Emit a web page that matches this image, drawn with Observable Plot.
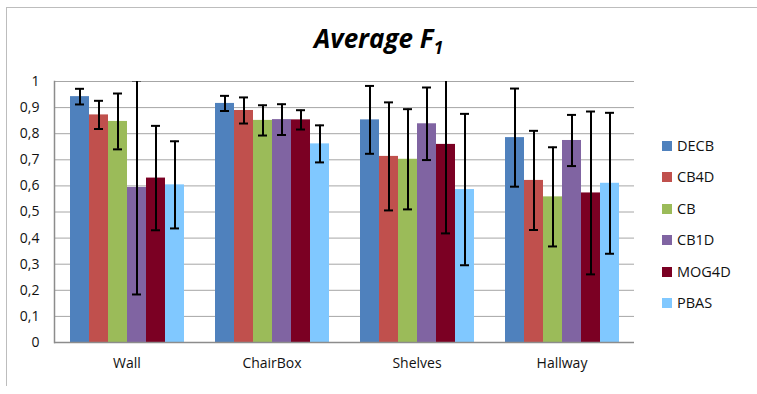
<!DOCTYPE html>
<html>
<head>
<meta charset="utf-8">
<script src="https://cdn.jsdelivr.net/npm/d3@7"></script>
<script src="https://cdn.jsdelivr.net/npm/@observablehq/plot@0.6"></script>
<style>
  body { margin: 0; background: #fff; }
  #wrap { position: relative; width: 757px; height: 394px; overflow: hidden; font-family: "Open Sans", sans-serif; }
  #border { position: absolute; left: 6px; top: 7px; width: 760px; height: 378px; border-top: 1.5px solid #bdbdbd; border-left: 1.5px solid #bdbdbd; }
  #title { height: 60px; width: 757px; font-weight: bold; font-style: italic; font-size: 26px; line-height: 26px; position: relative; }
  #title span { position: absolute; left: 0; right: 0; top: 25px; text-align: center; }
  #title sub { font-size: 17px; vertical-align: -6px; line-height: 0; }
  #legend { position: absolute; left: 662px; top: 136px; font-size: 14.5px; color: #111; }
  #legend .row { height: 31.4px; display: flex; align-items: flex-start; }
  #legend .sw { width: 10px; height: 10px; margin-top: 5px; margin-right: 5px; }
  svg { display: block; }
</style>
</head>
<body>
<div id="wrap">
  <div id="border"></div>
  <div id="title"><span>Average F<sub>1</sub></span></div>
  <div id="chart"></div>
  <div id="legend"></div>
</div>
<script>
const categories = ["Wall", "ChairBox", "Shelves", "Hallway"];
const series = ["DECB", "CB4D", "CB", "CB1D", "MOG4D", "PBAS"];
const colors = ["#4F81BD", "#C0504D", "#9BBB59", "#8064A2", "#7B0023", "#80C8FF"];
// mean values per series, in category order
const DECB  = [0.942, 0.916, 0.853, 0.785];
const CB4D  = [0.872, 0.889, 0.713, 0.621];
const CB    = [0.847, 0.851, 0.702, 0.558];
const CB1D  = [0.594, 0.854, 0.838, 0.774];
const MOG4D = [0.630, 0.853, 0.759, 0.573];
const PBAS  = [0.604, 0.761, 0.586, 0.610];
// standard deviations (error bar half-lengths)
const DECB_err  = [0.030, 0.029, 0.130, 0.188];
const CB4D_err  = [0.054, 0.050, 0.207, 0.190];
const CB_err    = [0.107, 0.058, 0.192, 0.190];
const CB1D_err  = [0.410, 0.059, 0.139, 0.098];
const MOG4D_err = [0.200, 0.037, 0.341, 0.312];
const PBAS_err  = [0.167, 0.071, 0.290, 0.270];
const yTicks = [0, 0.1, 0.2, 0.3, 0.4, 0.5, 0.6, 0.7, 0.8, 0.9, 1];

const values = {DECB, CB4D, CB, CB1D, MOG4D, PBAS};
const errs = {DECB: DECB_err, CB4D: CB4D_err, CB: CB_err, CB1D: CB1D_err, MOG4D: MOG4D_err, PBAS: PBAS_err};

const data = [];
categories.forEach((c, i) => {
  series.forEach(s => {
    const v = values[s][i], e = errs[s][i];
    data.push({cat: c, series: s, value: v, lo: v - e, hi: v + e});
  });
});

const fmt = d => d === 0 ? "0" : d === 1 ? "1" : d3.format(".1f")(d).replace(".", ",");

const chart = Plot.plot({
  width: 757,
  height: 334,
  marginLeft: 54,
  marginRight: 123,
  marginTop: 21,
  marginBottom: 52,
  style: {fontFamily: "Open Sans, sans-serif", fontSize: "14px", color: "#111"},
  fx: {domain: categories, padding: 0, label: null, tickSize: 0, tickPadding: 16, axis: "bottom"},
  x: {domain: series, paddingInner: 0, paddingOuter: 0.72, axis: null},
  y: {domain: [0, 1], ticks: yTicks, tickFormat: fmt, tickSize: 0, tickPadding: 15, label: null, axis: null},
  color: {domain: series, range: colors},
  marks: [
    Plot.ruleY(yTicks.filter(d => d > 0), {stroke: "#a6a6a6", strokeWidth: 1}),
    Plot.barY(data, {fx: "cat", x: "series", y: "value", fill: "series"}),
    Plot.ruleX(data, {fx: "cat", x: "series", y1: "lo", y2: "hi", stroke: "#000", strokeWidth: 2, clip: true}),
    Plot.tickY(data, {fx: "cat", x: "series", y: "lo", stroke: "#000", strokeWidth: 2, insetLeft: 5, insetRight: 5}),
    Plot.tickY(data, {fx: "cat", x: "series", y: "hi", stroke: "#000", strokeWidth: 2, insetLeft: 5, insetRight: 5, clip: true}),
    Plot.ruleY([0], {stroke: "#8c8c8c", strokeWidth: 1.5}),
    Plot.frame({anchor: "left", facetAnchor: "left", stroke: "#8c8c8c", strokeWidth: 1.5}),
    Plot.axisY({ticks: yTicks, tickFormat: fmt, tickSize: 0, tickPadding: 15, fill: "#111", facetAnchor: "left"})
  ]
});
document.getElementById("chart").appendChild(chart);

const legend = document.getElementById("legend");
series.forEach((s, i) => {
  const row = document.createElement("div");
  row.className = "row";
  const sw = document.createElement("div");
  sw.className = "sw";
  sw.style.background = colors[i];
  const t = document.createElement("span");
  t.textContent = s;
  row.appendChild(sw); row.appendChild(t);
  legend.appendChild(row);
});
</script>
</body>
</html>
